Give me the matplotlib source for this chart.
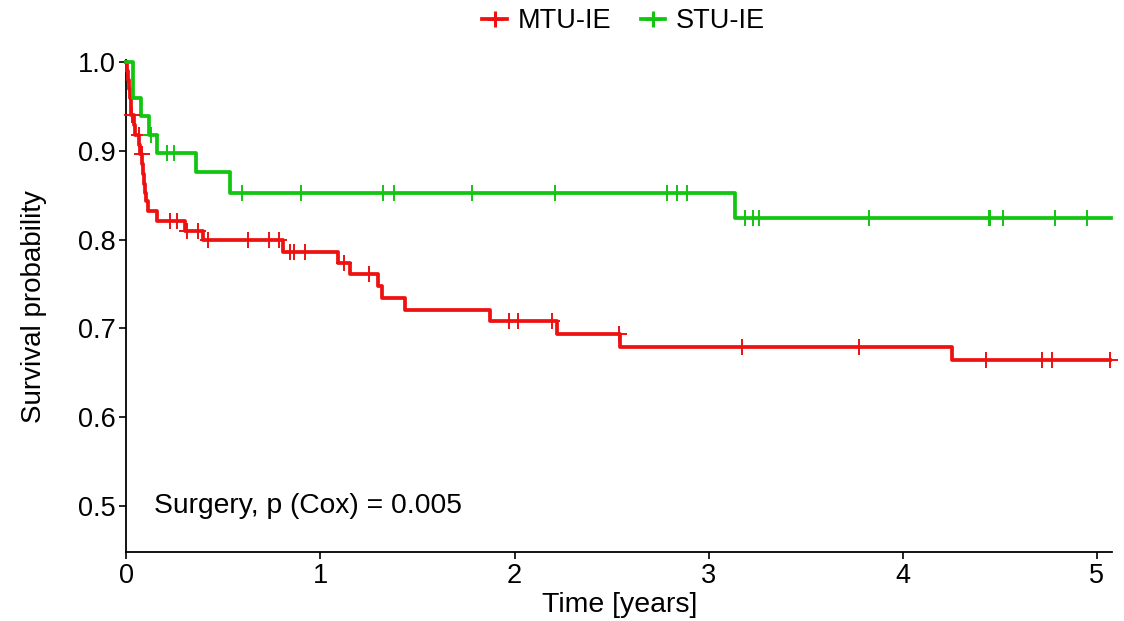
import numpy as np
import matplotlib.pyplot as plt

plt.rcParams['font.family'] = ['Liberation Sans', 'DejaVu Sans']

# MTU-IE (red) - event times [years] and survival after each event
mtu_times = [0.003, 0.008, 0.013, 0.018, 0.022, 0.025, 0.040, 0.045, 0.066,
             0.072, 0.080, 0.085, 0.090, 0.095, 0.100, 0.112, 0.157, 0.300,
             0.393, 0.807, 1.090, 1.150, 1.296, 1.317, 1.433, 1.874, 2.218,
             2.544, 4.257]
mtu_surv = [0.990, 0.980, 0.970, 0.960, 0.950, 0.940, 0.929, 0.918, 0.907,
            0.896, 0.885, 0.874, 0.863, 0.852, 0.843, 0.832, 0.821, 0.810,
            0.799, 0.786, 0.774, 0.761, 0.748, 0.734, 0.721, 0.708, 0.694,
            0.679, 0.664]
mtu_censor = [0.027, 0.063, 0.078, 0.223, 0.261, 0.312, 0.369, 0.419, 0.627,
              0.736, 0.784, 0.841, 0.862, 0.918, 1.123, 1.251, 1.974, 2.020,
              2.195, 2.539, 3.174, 3.777, 4.430, 4.720, 4.772, 5.070]
mtu_end = 5.07

# STU-IE (green)
stu_times = [0.034, 0.073, 0.114, 0.157, 0.360, 0.535, 3.137]
stu_surv = [0.960, 0.939, 0.918, 0.898, 0.876, 0.853, 0.824]
stu_censor = [0.128, 0.210, 0.244, 0.596, 0.900, 1.320, 1.380, 1.780, 2.209,
              2.786, 2.836, 2.891, 3.190, 3.228, 3.259, 3.827, 4.443, 4.451,
              4.518, 4.786, 4.951]
stu_end = 5.075

groups = ['MTU-IE', 'STU-IE']
colors = ['#EE1111', '#11C511']
annot = 'Surgery, p (Cox) = 0.005'

fig = plt.figure(figsize=(11.24, 6.21), dpi=100)
ax = fig.add_axes([0.1125, 0.111, 0.877, 0.792])

series = [(mtu_times, mtu_surv, mtu_censor, mtu_end),
          (stu_times, stu_surv, stu_censor, stu_end)]
handles = []
for (tt, ss, cc, tend), col, name in zip(series, colors, groups):
    x = np.concatenate([[0], tt, [tend]])
    y = np.concatenate([[1.0], ss, [ss[-1]]])
    ax.step(x, y, where='post', color=col, lw=2.7, clip_on=False, zorder=3)
    # censor marks sit on the curve
    idx = np.searchsorted(x, cc, side='right') - 1
    ax.plot(cc, y[idx], ls='none', marker='+', ms=11, mew=1.4,
            color=col, clip_on=False, zorder=4)
    h, = ax.plot([], [], color=col, lw=2.7, marker='+', ms=12, mew=2.2)
    handles.append(h)

ax.set_xlim(0, 5.08)
ax.set_ylim(0.448, 1.002)
ax.set_xticks([0, 1, 2, 3, 4, 5])
ax.set_yticks([0.5, 0.6, 0.7, 0.8, 0.9, 1.0])
ax.set_yticklabels(['0.5', '0.6', '0.7', '0.8', '0.9', '1.0'])
ax.spines['top'].set_visible(False)
ax.spines['right'].set_visible(False)
for sp in ['left', 'bottom']:
    ax.spines[sp].set_linewidth(1.3)
ax.tick_params(direction='out', length=5, width=1.2, labelsize=19.5, pad=3)

ax.set_xlabel('Time [years]', fontsize=20.5, labelpad=2)
ax.set_ylabel('Survival probability', fontsize=20, labelpad=22)
ax.text(0.142, 0.5, annot, fontsize=20.3, va='center', ha='left')

fig.legend(handles, groups, loc='center', bbox_to_anchor=(0.555, 0.966),
           ncol=2, frameon=False, fontsize=19.5, handlelength=0.9,
           handletextpad=0.4, columnspacing=1.1)

fig.savefig('out.png', dpi=100)
